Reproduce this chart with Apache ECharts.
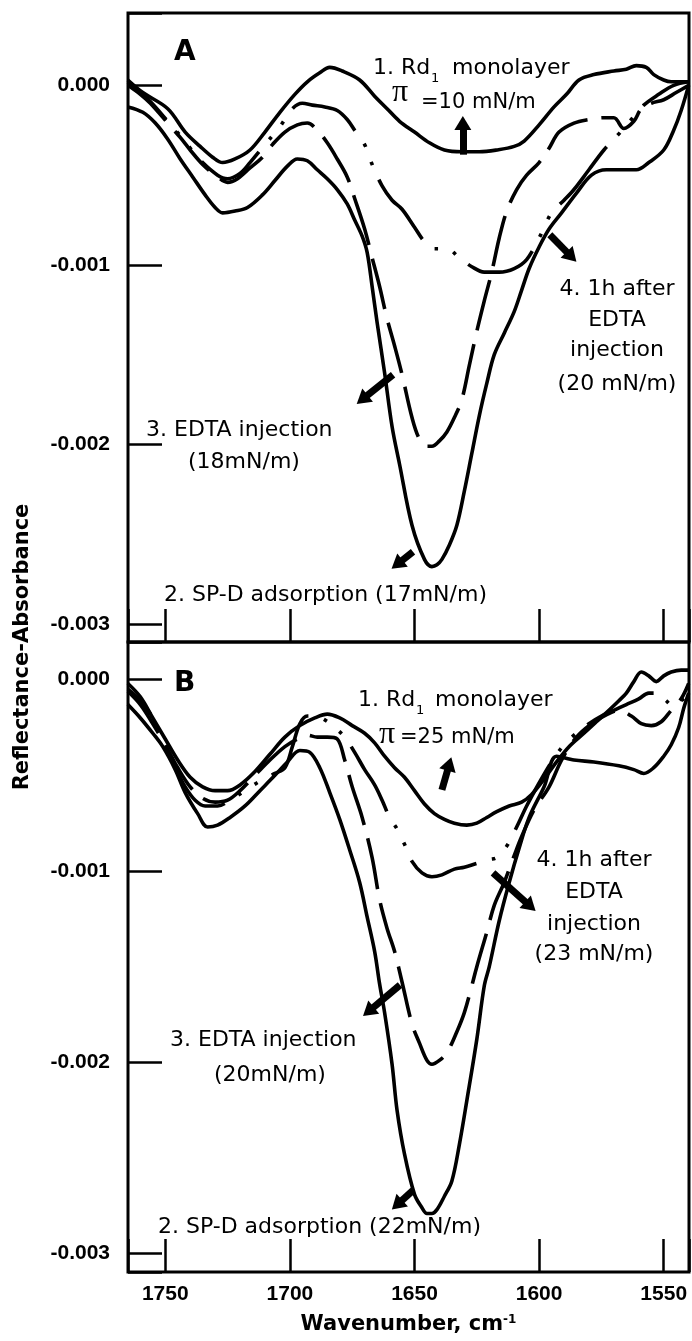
<!DOCTYPE html>
<html>
<head>
<meta charset="utf-8">
<script src="https://cdn.jsdelivr.net/npm/echarts@6/dist/echarts.min.js"></script>
<style>
  html, body { margin: 0; padding: 0; background: #fff; }
  #chart { width: 692px; height: 1341px; }
</style>
</head>
<body>
<div id="chart"></div>
<script>
// ---------- Panel A: Rd1 monolayer at 10 mN/m ----------
// 1. Rd1 monolayer
const wnA1  = [1765,1759,1749,1742,1736,1731,1727,1722,1716,1710,1704,1698,1693,1688,1684,1679,1672,1666,1661,1656,1650,1644,1638,1631,1624,1617,1610,1606,1600,1594,1589,1584,1578,1570,1565,1561,1557,1554,1550,1547,1543,1540];
const absA1 = [0.00003,-0.00004,-0.00013,-0.00026,-0.00034,-0.00040,-0.00043,-0.00041,-0.00036,-0.00026,-0.00015,-0.00005,0.00002,0.00007,0.00010,0.00008,0.00003,-0.00006,-0.00013,-0.00020,-0.00026,-0.00032,-0.00036,-0.00037,-0.00037,-0.00036,-0.00034,-0.00031,-0.00022,-0.00012,-0.00005,0.00003,0.00006,0.00008,0.00009,0.00011,0.00010,0.00006,0.00003,0.00002,0.00002,0.00002];
// 2. SP-D adsorption (17 mN/m)
const wnA2  = [1765,1759,1754,1749,1744,1739,1734,1730,1727,1722,1717,1711,1706,1701,1697,1693,1689,1685,1681,1677,1674,1671,1669,1667,1665,1662,1659,1656,1651,1646,1643,1641,1639,1636,1633,1630,1627,1624,1621,1618,1614,1610,1607,1604,1600,1596,1591,1585,1579,1573,1567,1561,1556,1550,1546,1543,1540];
const absA2 = [-0.00012,-0.00015,-0.00021,-0.00030,-0.00041,-0.00051,-0.00061,-0.00068,-0.00071,-0.00070,-0.00068,-0.00061,-0.00053,-0.00045,-0.00041,-0.00042,-0.00047,-0.00052,-0.00058,-0.00066,-0.00075,-0.00084,-0.00093,-0.00112,-0.00132,-0.00160,-0.00190,-0.00211,-0.00245,-0.00264,-0.00268,-0.00267,-0.00264,-0.00256,-0.00245,-0.00226,-0.00205,-0.00184,-0.00166,-0.00150,-0.00138,-0.00126,-0.00114,-0.00102,-0.00090,-0.00080,-0.00071,-0.00060,-0.00050,-0.00047,-0.00047,-0.00047,-0.00043,-0.00036,-0.00025,-0.00014,0.00000];
// 3. EDTA injection (18 mN/m)
const wnA3  = [1765,1760,1756,1749,1744,1740,1735,1729,1725,1721,1716,1711,1707,1702,1697,1693,1689,1685,1681,1677,1674,1670,1667,1664,1661,1658,1655,1651,1648,1645,1643,1640,1637,1634,1631,1628,1625,1622,1619,1616,1613,1609,1605,1600,1596,1592,1586,1580,1574,1570,1566,1562,1559,1555,1550,1545,1540];
const absA3 = [0.00000,-0.00005,-0.00010,-0.00021,-0.00029,-0.00036,-0.00044,-0.00051,-0.00054,-0.00052,-0.00046,-0.00040,-0.00033,-0.00026,-0.00022,-0.00021,-0.00025,-0.00032,-0.00041,-0.00051,-0.00063,-0.00080,-0.00096,-0.00112,-0.00130,-0.00145,-0.00161,-0.00185,-0.00197,-0.00201,-0.00201,-0.00198,-0.00193,-0.00185,-0.00175,-0.00156,-0.00137,-0.00120,-0.00104,-0.00085,-0.00070,-0.00058,-0.00050,-0.00043,-0.00035,-0.00026,-0.00021,-0.00019,-0.00018,-0.00018,-0.00024,-0.00020,-0.00013,-0.00010,-0.00008,-0.00004,0.00000];
// 4. 1 h after EDTA injection (20 mN/m)
const wnA4  = [1765,1760,1756,1749,1744,1740,1735,1729,1725,1720,1716,1710,1704,1699,1695,1691,1686,1681,1677,1674,1670,1667,1663,1659,1655,1650,1646,1642,1637,1632,1627,1622,1616,1610,1605,1600,1595,1590,1586,1580,1574,1568,1563,1558,1552,1546,1540];
const absA4 = [0.00002,-0.00004,-0.00009,-0.00020,-0.00028,-0.00035,-0.00043,-0.00050,-0.00052,-0.00049,-0.00043,-0.00033,-0.00023,-0.00013,-0.00010,-0.00011,-0.00012,-0.00014,-0.00019,-0.00025,-0.00033,-0.00044,-0.00056,-0.00064,-0.00069,-0.00079,-0.00087,-0.00091,-0.00091,-0.00096,-0.00101,-0.00104,-0.00104,-0.00102,-0.00097,-0.00085,-0.00071,-0.00064,-0.00058,-0.00047,-0.00036,-0.00027,-0.00019,-0.00011,-0.00005,0.00000,0.00002];

// ---------- Panel B: Rd1 monolayer at 25 mN/m ----------
const wnB1  = [1765,1760,1755,1750,1745,1740,1735,1730,1725,1720,1714,1708,1702,1696,1690,1685,1680,1675,1670,1666,1662,1658,1654,1650,1646,1642,1638,1634,1629,1625,1621,1617,1612,1607,1603,1598,1593,1588,1582,1577,1572,1568,1565,1562,1559,1556,1553,1550,1547,1543,1540];
const absB1 = [-0.00002,-0.00009,-0.00020,-0.00031,-0.00042,-0.00051,-0.00056,-0.00058,-0.00058,-0.00055,-0.00048,-0.00039,-0.00030,-0.00024,-0.00020,-0.00018,-0.00020,-0.00024,-0.00028,-0.00033,-0.00040,-0.00046,-0.00051,-0.00058,-0.00065,-0.00070,-0.00073,-0.00075,-0.00076,-0.00075,-0.00072,-0.00069,-0.00066,-0.00064,-0.00060,-0.00052,-0.00043,-0.00035,-0.00028,-0.00022,-0.00016,-0.00011,-0.00007,-0.00001,0.00004,0.00002,-0.00001,0.00002,0.00004,0.00005,0.00005];
const wnB2  = [1765,1760,1755,1751,1746,1742,1737,1733,1729,1724,1718,1712,1706,1701,1696,1692,1688,1684,1680,1676,1672,1669,1666,1664,1662,1659,1657,1654,1650,1647,1645,1643,1641,1638,1635,1632,1629,1625,1622,1620,1616,1612,1608,1604,1598,1593,1586,1578,1568,1562,1558,1554,1550,1547,1544,1542,1540];
const absB2 = [-0.00013,-0.00020,-0.00028,-0.00035,-0.00047,-0.00059,-0.00070,-0.00077,-0.00076,-0.00072,-0.00066,-0.00058,-0.00050,-0.00043,-0.00037,-0.00038,-0.00046,-0.00059,-0.00073,-0.00089,-0.00106,-0.00124,-0.00142,-0.00159,-0.00174,-0.00201,-0.00225,-0.00248,-0.00269,-0.00276,-0.00279,-0.00279,-0.00277,-0.00270,-0.00262,-0.00243,-0.00220,-0.00188,-0.00160,-0.00150,-0.00126,-0.00106,-0.00088,-0.00072,-0.00056,-0.00040,-0.00042,-0.00043,-0.00045,-0.00047,-0.00049,-0.00046,-0.00040,-0.00034,-0.00025,-0.00015,-0.00007];
const wnB3  = [1765,1760,1755,1750,1745,1740,1735,1730,1725,1720,1714,1708,1702,1697,1693,1689,1685,1681,1678,1675,1671,1667,1664,1661,1658,1655,1651,1648,1645,1643,1640,1637,1633,1630,1627,1625,1621,1618,1614,1610,1607,1602,1596,1591,1585,1579,1574,1568,1563,1559,1555,1551,1547,1543,1540];
const absB3 = [-0.00006,-0.00013,-0.00023,-0.00034,-0.00046,-0.00056,-0.00062,-0.00064,-0.00063,-0.00058,-0.00050,-0.00042,-0.00035,-0.00031,-0.00029,-0.00030,-0.00030,-0.00031,-0.00042,-0.00056,-0.00072,-0.00093,-0.00115,-0.00130,-0.00142,-0.00158,-0.00180,-0.00190,-0.00199,-0.00201,-0.00199,-0.00195,-0.00184,-0.00174,-0.00160,-0.00150,-0.00132,-0.00118,-0.00106,-0.00092,-0.00082,-0.00068,-0.00056,-0.00042,-0.00030,-0.00023,-0.00019,-0.00016,-0.00019,-0.00023,-0.00024,-0.00022,-0.00016,-0.00010,-0.00002];
const wnB4  = [1765,1760,1755,1750,1746,1742,1738,1734,1729,1724,1718,1712,1706,1702,1699,1696,1693,1690,1686,1682,1678,1674,1670,1666,1663,1660,1657,1654,1651,1647,1643,1639,1634,1630,1625,1620,1617,1613,1609,1605,1600,1595,1590,1586,1580,1575,1570,1565,1560,1556,1552,1549,1546,1543,1540];
const absB4 = [-0.00005,-0.00011,-0.00020,-0.00034,-0.00046,-0.00056,-0.00063,-0.00066,-0.00066,-0.00063,-0.00058,-0.00053,-0.00049,-0.00046,-0.00035,-0.00023,-0.00019,-0.00019,-0.00021,-0.00025,-0.00030,-0.00038,-0.00047,-0.00055,-0.00063,-0.00072,-0.00078,-0.00086,-0.00095,-0.00101,-0.00103,-0.00102,-0.00099,-0.00098,-0.00096,-0.00094,-0.00093,-0.00087,-0.00077,-0.00066,-0.00054,-0.00043,-0.00034,-0.00029,-0.00023,-0.00019,-0.00016,-0.00013,-0.00010,-0.00007,-0.00007,-0.00011,-0.00014,-0.00011,-0.00008];

// Shift arrows: [tail, head] in (wavenumber, absorbance)
const shiftArrowsA = [
  [[1630.6, -0.000386], [1630.6, -0.000210]],
  [[1595.7, -0.000832], [1587.0, -0.000955]],
  [[1658.6, -0.001612], [1671.0, -0.001750]],
  [[1650.6, -0.002598], [1657.0, -0.002668]]
];
const shiftArrowsB = [
  [[1639.0, -0.000576], [1636.0, -0.000440]],
  [[1618.5, -0.001010], [1603.5, -0.001185]],
  [[1655.8, -0.001596], [1668.5, -0.001735]],
  [[1650.6, -0.002669], [1657.0, -0.002745]]
];

const pairs = (wn, ab) => wn.map((w, i) => [w, ab[i]]);

const SOLID = 'solid';
const LONG_DASH = [52, 14];
const DASH_DOT = [74, 16, 3.5, 16, 3.5, 16];

function curve(name, panel, wn, ab, dash, offset) {
  return {
    name, type: 'line', xAxisIndex: panel, yAxisIndex: panel,
    data: pairs(wn, ab), smooth: 0.35, showSymbol: false, silent: true,
    lineStyle: { color: '#000', width: 3.6, type: dash, dashOffset: offset || 0, cap: 'butt', join: 'round' }
  };
}

function arrows(list) {
  return {
    silent: true, animation: false,
    symbol: ['none', 'triangle'], symbolSize: [17, 14],
    label: { show: false }, emphasis: { disabled: true },
    lineStyle: { color: '#000', width: 7, type: 'solid', cap: 'butt' },
    itemStyle: { color: '#000' },
    data: list.map(a => [{ coord: a[0] }, { coord: a[1] }])
  };
}

const tickFont = { fontFamily: 'Liberation Sans', fontWeight: 'bold', fontSize: 21, color: '#000' };
const onMultiple = (v, step) => Math.abs(v / step - Math.round(v / step)) < 1e-6;

function xAxis(panel, withLabels) {
  const ax = {
    gridIndex: panel, type: 'value', inverse: true, position: 'bottom',
    min: 1539.86, max: 1764.95, minInterval: 50, maxInterval: 50, splitNumber: 5,
    axisLine: { show: false, onZero: false },
    axisTick: { show: true, inside: true, length: 33, lineStyle: { color: '#000', width: 2.5 } },
    splitLine: { show: false },
    axisLabel: {
      show: withLabels, margin: 12, ...tickFont,
      formatter: v => onMultiple(v, 50) ? String(Math.round(v)) : ''
    }
  };
  if (withLabels) {
    ax.name = '{t|Wavenumber, cm}{s|-1}';
    ax.nameLocation = 'middle';
    ax.nameGap = 42;
    ax.nameTextStyle = {
      rich: {
        t: { fontFamily: 'DejaVu Sans', fontWeight: 'bold', fontSize: 21, color: '#000' },
        s: { fontFamily: 'DejaVu Sans', fontWeight: 'bold', fontSize: 12, color: '#000', verticalAlign: 'top' }
      }
    };
  }
  return ax;
}

function yAxis(panel, min, max) {
  return {
    gridIndex: panel, type: 'value', min, max, position: 'left',
    minInterval: 0.001, maxInterval: 0.001, splitNumber: 4,
    axisLine: { show: false, onZero: false },
    axisTick: { show: true, inside: true, length: 34, lineStyle: { color: '#000', width: 2.5 } },
    splitLine: { show: false },
    axisLabel: {
      margin: 18, ...tickFont,
      formatter: v => onMultiple(v, 0.001) ? (Math.abs(v) < 1e-9 ? '0.000' : v.toFixed(3)) : ''
    }
  };
}

// Annotation text, placed by its baseline
const SANS = '"DejaVu Sans"';
function note(x, baseline, text, size, align, family, weight) {
  return {
    type: 'text', x, y: baseline - 0.346 * size, silent: true,
    style: {
      text, fill: '#000',
      font: (weight || 'normal') + ' ' + size + 'px ' + (family || SANS),
      textAlign: align || 'left', textVerticalAlign: 'middle'
    }
  };
}

const graphics = [
  // panel letters
  note(174, 62, 'A', 28, 'left', SANS, 'bold'),
  note(174, 693, 'B', 28, 'left', SANS, 'bold'),
  // panel A notes
  note(373, 76, '1. Rd', 22), note(431, 83, '1', 13), note(452, 76, 'monolayer', 22),
  note(392, 104, 'π', 32, 'left', '"Liberation Serif"'), note(421, 110, '=10 mN/m', 21),
  note(617, 297, '4. 1h after', 22, 'center'),
  note(617, 328, 'EDTA', 22, 'center'),
  note(617, 358, 'injection', 22, 'center'),
  note(617, 392, '(20 mN/m)', 22, 'center'),
  note(146, 438, '3. EDTA injection', 22),
  note(188, 470, '(18mN/m)', 22),
  note(164, 603, '2. SP-D adsorption (17mN/m)', 22),
  // panel B notes
  note(358, 708, '1. Rd', 22), note(416, 715, '1', 13), note(435, 708, 'monolayer', 22),
  note(379, 746, 'π', 32, 'left', '"Liberation Serif"'), note(400, 745, '=25 mN/m', 21),
  note(594, 868, '4. 1h after', 22, 'center'),
  note(594, 900, 'EDTA', 22, 'center'),
  note(594, 932, 'injection', 22, 'center'),
  note(594, 962, '(23 mN/m)', 22, 'center'),
  note(170, 1048, '3. EDTA injection', 22),
  note(214, 1083, '(20mN/m)', 22),
  note(158, 1235, '2. SP-D adsorption (22mN/m)', 22),
  // shared y-axis title
  {
    type: 'text', x: 23, y: 647, rotation: Math.PI / 2, silent: true,
    style: {
      text: 'Reflectance-Absorbance', fill: '#000',
      font: 'bold 21px "DejaVu Sans"', textAlign: 'center', textVerticalAlign: 'middle'
    }
  }
];

const seriesA1 = curve('1. Rd1 monolayer', 0, wnA1, absA1, SOLID);
seriesA1.markLine = arrows(shiftArrowsA);
const seriesB1 = curve('1. Rd1 monolayer', 1, wnB1, absB1, SOLID);
seriesB1.markLine = arrows(shiftArrowsB);

const option = {
  backgroundColor: '#fff',
  animation: false,
  grid: [
    { left: 128, top: 13, width: 561, height: 629, show: true, borderColor: '#000', borderWidth: 3, backgroundColor: 'transparent' },
    { left: 128, top: 642, width: 561, height: 630, show: true, borderColor: '#000', borderWidth: 3, backgroundColor: 'transparent' }
  ],
  xAxis: [xAxis(0, false), xAxis(1, true)],
  yAxis: [yAxis(0, -0.0031, 0.000403), yAxis(1, -0.003096, 0.000197)],
  series: [
    seriesA1,
    curve('2. SP-D adsorption', 0, wnA2, absA2, SOLID),
    curve('3. EDTA injection', 0, wnA3, absA3, LONG_DASH),
    curve('4. 1h after EDTA injection', 0, wnA4, absA4, DASH_DOT, 20),
    seriesB1,
    curve('2. SP-D adsorption', 1, wnB2, absB2, SOLID),
    curve('3. EDTA injection', 1, wnB3, absB3, LONG_DASH),
    curve('4. 1h after EDTA injection', 1, wnB4, absB4, DASH_DOT, 40)
  ],
  graphic: graphics
};

const chart = echarts.init(document.getElementById('chart'), null, { renderer: 'canvas' });
chart.setOption(option);
</script>
</body>
</html>
